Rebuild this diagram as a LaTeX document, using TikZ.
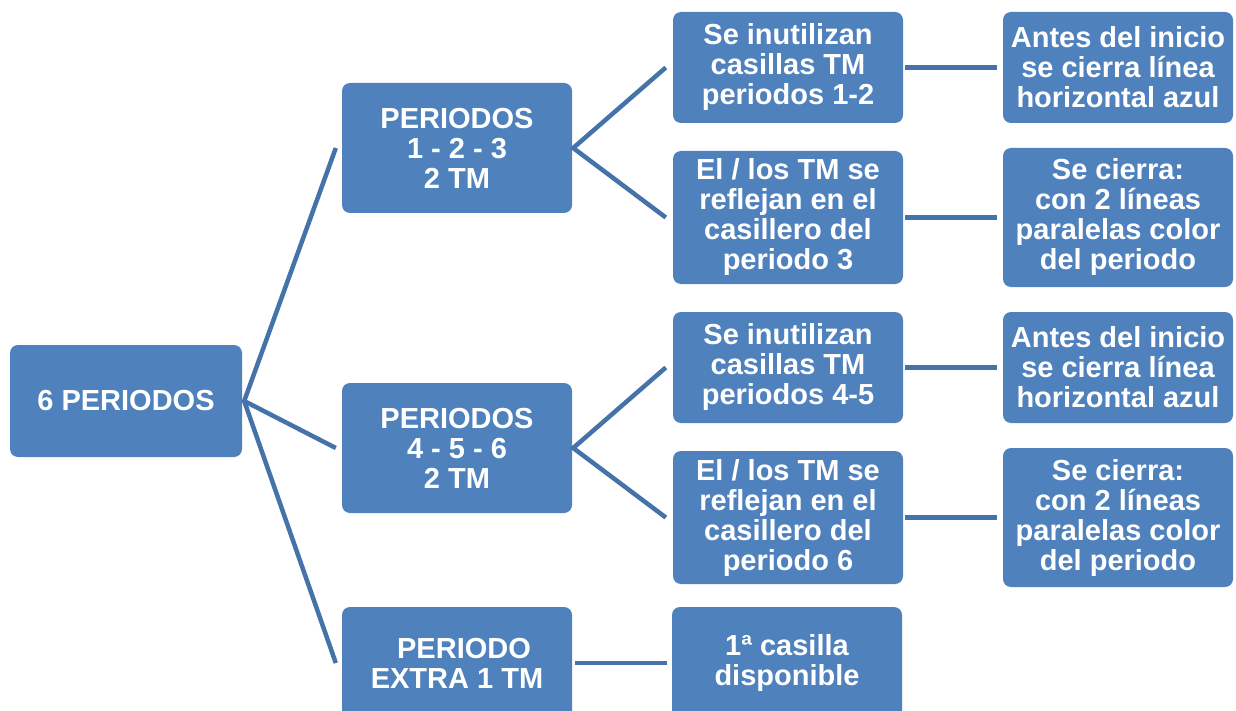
\documentclass[tikz,border=0pt]{standalone}
\usepackage{fontspec}
\setmainfont{Liberation Sans}
\usetikzlibrary{calc}
\definecolor{boxblue}{HTML}{4F81BD}
\definecolor{lineblue}{HTML}{4672AA}
\begin{document}
\begin{tikzpicture}[x=1pt,y=-1pt,
  bx/.style={fill=boxblue, draw=none, rounded corners=8pt, inner sep=0pt,
    minimum width=230pt, text=white, align=center,
    font=\fontsize{29}{30}\selectfont\bfseries},
  conn/.style={draw=lineblue, line width=4.5pt}]
\useasboundingbox (0,0) rectangle (1236,711);
% boxes
\node[bx, minimum width=232pt, minimum height=112pt] (root) at (126,401) {6 PERIODOS};
\node[bx, minimum height=130pt] (p1) at (457,148) {PERIODOS\\1 - 2 - 3\\2 TM};
\node[bx, minimum height=130pt] (p2) at (457,448) {PERIODOS\\4 - 5 - 6\\2 TM};
\node[bx, minimum height=112pt] (p3) at (457,663) {\hspace*{14pt}PERIODO\\EXTRA 1 TM};
\node[bx, minimum height=111pt] (a1) at (788,67.5) {Se inutilizan\\casillas TM\\periodos 1-2};
\node[bx, minimum height=133pt] (a2) at (788,217.5) {El / los TM se\\reflejan en el\\casillero del\\periodo 3};
\node[bx, minimum height=111pt] (a3) at (788,367.5) {Se inutilizan\\casillas TM\\periodos 4-5};
\node[bx, minimum height=133pt] (a4) at (788,517.5) {El / los TM se\\reflejan en el\\casillero del\\periodo 6};
\node[bx, minimum height=112pt] (c1) at (787,663) {1ª casilla\\disponible};
\node[bx, minimum height=111pt] (b1) at (1118,67.5) {Antes del inicio\\se cierra línea\\horizontal azul};
\node[bx, minimum height=139pt] (b2) at (1118,217.5) {Se cierra:\\con 2 líneas\\paralelas color\\del periodo};
\node[bx, minimum height=111pt] (b3) at (1118,367.5) {Antes del inicio\\se cierra línea\\horizontal azul};
\node[bx, minimum height=139pt] (b4) at (1118,517.5) {Se cierra:\\con 2 líneas\\paralelas color\\del periodo};
% connector end points
\coordinate (rs) at ($(root.east)+(2,0)$);
\coordinate (e1) at ($(p1.west)+(-6,0)$);
\coordinate (e2) at ($(p2.west)+(-6,0)$);
\coordinate (e3) at ($(p3.west)+(-6,0)$);
\coordinate (s1) at ($(p1.east)+(1,0)$);
\coordinate (s2) at ($(p2.east)+(1,0)$);
\coordinate (f1) at ($(a1.west)+(-7,0)$);
\coordinate (f2) at ($(a2.west)+(-7,0)$);
\coordinate (f3) at ($(a3.west)+(-7,0)$);
\coordinate (f4) at ($(a4.west)+(-7,0)$);
% connectors
\draw[conn] (e1) -- (rs) -- (e2);
\draw[conn] (rs) -- (e3);
\draw[conn] (f1) -- (s1) -- (f2);
\draw[conn] (f3) -- (s2) -- (f4);
\draw[conn, shorten <=3pt, shorten >=5pt] (p3.east) -- (c1.west);
\draw[conn, shorten <=2pt, shorten >=6pt] (a1.east) -- (b1.west);
\draw[conn, shorten <=2pt, shorten >=6pt] (a2.east) -- (b2.west);
\draw[conn, shorten <=2pt, shorten >=6pt] (a3.east) -- (b3.west);
\draw[conn, shorten <=2pt, shorten >=6pt] (a4.east) -- (b4.west);
\end{tikzpicture}
\end{document}
